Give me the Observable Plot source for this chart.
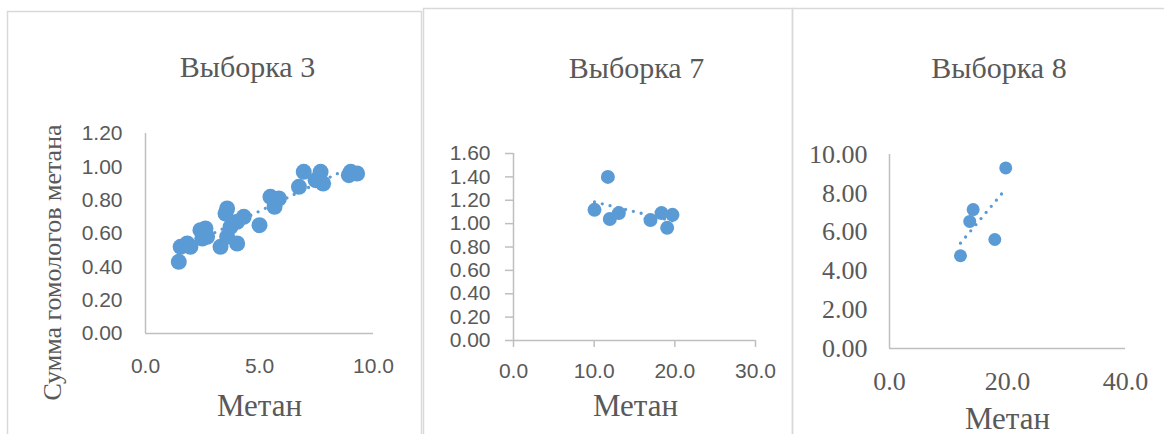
<!DOCTYPE html>
<html><head><meta charset="utf-8">
<script src="https://cdn.jsdelivr.net/npm/d3@7"></script>
<script src="https://cdn.jsdelivr.net/npm/@observablehq/plot@0.6"></script>
<style>
body{margin:0;background:#fff;}
#root{position:relative;width:1164px;height:434px;overflow:hidden;background:#fff;}
#root svg{position:absolute;}
</style>
</head><body><div id="root"></div>
<script>
// ---- Data ----
const titles = ["Выборка 3", "Выборка 7", "Выборка 8"];
const xTitle = "Метан";
const yTitle = "Сумма гомологов  метана";

// Выборка 3
const s3x = [1.46, 1.54, 1.83, 1.97, 2.41, 2.63, 2.49, 2.70, 3.58, 3.51, 3.29, 3.58, 4.02, 3.73, 4.02, 4.31, 5.00, 5.48, 5.85, 5.66, 6.73, 6.94, 7.68, 7.46, 7.79, 8.92, 9.28, 9.00];
const s3y = [0.43, 0.52, 0.54, 0.52, 0.62, 0.63, 0.57, 0.58, 0.75, 0.72, 0.52, 0.58, 0.54, 0.64, 0.67, 0.70, 0.65, 0.82, 0.81, 0.76, 0.88, 0.97, 0.97, 0.92, 0.90, 0.95, 0.96, 0.97];
// Выборка 7
const s7x = [11.7, 10.04, 11.94, 13.06, 16.98, 18.35, 19.71, 19.05];
const s7y = [1.40, 1.118, 1.04, 1.09, 1.03, 1.09, 1.075, 0.964];
// Выборка 8
const s8x = [19.7, 14.18, 13.6, 17.85, 12.03];
const s8y = [9.31, 7.16, 6.55, 5.62, 4.78];

const x3Ticks = [0, 5, 10], y3Ticks = [0, 0.2, 0.4, 0.6, 0.8, 1.0, 1.2];
const x7Ticks = [0, 10, 20, 30], y7Ticks = [0, 0.2, 0.4, 0.6, 0.8, 1.0, 1.2, 1.4, 1.6];
const x8Ticks = [0, 20, 40], y8Ticks = [0, 2, 4, 6, 8, 10];

// ---- Styles ----
const BLUE = "#5B9BD5", AX = "#BFBFBF", TXT = "#595959";
const SANS = "Liberation Sans, Arial, sans-serif";
const SERIF = "Liberation Serif, Times New Roman, serif";
const root = document.getElementById("root");

// decorations: borders and titles
const deco = d3.select(root).append("svg").attr("width", 1164).attr("height", 434).style("left", "0px").style("top", "0px");
const borders = [[7.5, 11.5, 414, 440], [423.5, 8.5, 369, 440], [792.5, 8.5, 400, 440]];
deco.selectAll("rect").data(borders).join("rect")
  .attr("x", d => d[0]).attr("y", d => d[1]).attr("width", d => d[2]).attr("height", d => d[3])
  .attr("fill", "none").attr("stroke", "#D9D9D9").attr("stroke-width", 1.5);
const texts = [
  {t: titles[0], x: 247.5, y: 77, s: 30},
  {t: titles[1], x: 636.5, y: 78, s: 30},
  {t: titles[2], x: 999, y: 78, s: 30},
  {t: xTitle, x: 259.5, y: 416, s: 31},
  {t: xTitle, x: 635.5, y: 416, s: 31},
  {t: xTitle, x: 1007.5, y: 428.5, s: 31}
];
deco.selectAll("text.t").data(texts).join("text").attr("class", "t")
  .attr("x", d => d.x).attr("y", d => d.y).attr("text-anchor", "middle")
  .attr("font-family", SERIF).attr("font-size", d => d.s).attr("fill", TXT).text(d => d.t);
deco.append("text").attr("transform", "translate(61,262.5) rotate(-90)").attr("text-anchor", "middle")
  .attr("font-family", SERIF).attr("font-size", 26).attr("fill", TXT).text(yTitle);

function panel({left, width, ml, mr, mt, mb, xs, ys, xd, yd, xt, yt, xf, yf, font, fsize, tickY, tickX, padY, padX, r}) {
  const data = xs.map((x, i) => ({x, y: ys[i]}));
  const p = Plot.plot({
    width, height: 434,
    marginLeft: ml, marginRight: mr, marginTop: mt, marginBottom: mb,
    style: {background: "transparent", overflow: "visible", fontFamily: font, fontSize: fsize + "px", color: TXT},
    x: {domain: xd, label: null},
    y: {domain: yd, label: null},
    marks: [
      Plot.axisY({ticks: yt, label: null, tickFormat: d3.format(yf), tickSize: tickY, tickPadding: padY, stroke: AX, strokeWidth: 1.5, strokeOpacity: 1, fill: TXT, fontSize: fsize, fontFamily: font}),
      Plot.axisX({ticks: xt, label: null, tickFormat: d3.format(xf), tickSize: tickX, tickPadding: padX, stroke: AX, strokeWidth: 1.5, strokeOpacity: 1, fill: TXT, fontSize: fsize, fontFamily: font}),
      Plot.ruleX([xd[0]], {stroke: AX, strokeWidth: 1.5}),
      Plot.ruleY([yd[0]], {stroke: AX, strokeWidth: 1.5}),
      Plot.dot(data, {x: "x", y: "y", r, fill: BLUE}),
      Plot.linearRegressionY(data, {x: "x", y: "y", ci: 0, stroke: BLUE, strokeWidth: 3.3, strokeDasharray: "0,8", strokeLinecap: "round", strokeOpacity: 1})
    ]
  });
  p.style.left = left + "px";
  p.style.top = "0px";
  root.appendChild(p);
}

panel({left: 0, width: 420, ml: 145, mr: 47, mt: 133, mb: 101, xs: s3x, ys: s3y, xd: [0, 10], yd: [0, 1.2],
  xt: x3Ticks, yt: y3Ticks, xf: ".1f", yf: ".2f", font: SANS, fsize: 21, tickY: 0, tickX: 0, padY: 23, padX: 25, r: 8});
panel({left: 400, width: 400, ml: 113, mr: 45, mt: 153, mb: 94, xs: s7x, ys: s7y, xd: [0, 30], yd: [0, 1.6],
  xt: x7Ticks, yt: y7Ticks, xf: ".1f", yf: ".2f", font: SANS, fsize: 21, tickY: 8, tickX: 7, padY: 15, padX: 16, r: 7});
panel({left: 780, width: 384, ml: 109, mr: 39, mt: 154, mb: 86, xs: s8x, ys: s8y, xd: [0, 40], yd: [0, 10],
  xt: x8Ticks, yt: y8Ticks, xf: ".1f", yf: ".2f", font: SERIF, fsize: 26, tickY: 0, tickX: 0, padY: 22, padX: 23, r: 6.5});
</script>
</body></html>
